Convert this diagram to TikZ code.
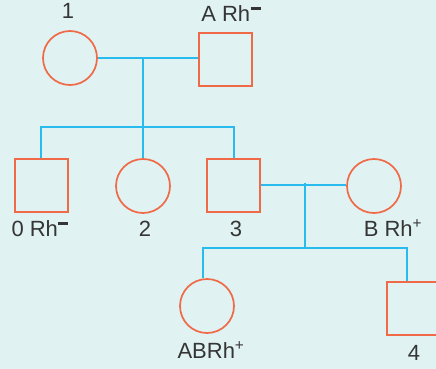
\documentclass[tikz,border=0pt]{standalone}
\usepackage{fontspec}
\setmainfont{Liberation Sans}
\usepackage{tikz}
\usetikzlibrary{positioning,calc}
\usepackage{xcolor}
\definecolor{bgcol}{HTML}{E0F2F2}
\definecolor{shapecol}{HTML}{F06A48}
\definecolor{linecol}{HTML}{2ABBEE}
\definecolor{textcol}{HTML}{353535}
\newcommand{\rhneg}{\kern0.5pt\raisebox{12pt}{\rule{10pt}{2.6pt}}}

\begin{document}
\begin{tikzpicture}[
    x=1pt, y=-1pt,
    female/.style={circle, draw=shapecol, line width=1.7pt, minimum size=54pt, inner sep=0pt},
    male/.style={rectangle, draw=shapecol, line width=2pt, minimum size=53pt, inner sep=0pt},
    line/.style={draw=linecol, line width=2pt},
    tag/.style={text=textcol, font=\fontsize{22}{22}\selectfont, inner sep=0pt, anchor=base},
]
    \fill[bgcol] (0,0) rectangle (436,369);
    \useasboundingbox (0,0) rectangle (436,369);
    \clip (0,0) rectangle (436,369);

    % first generation
    \node[female] (p1) at (70,58) {};
    \node[male] (pA) at (225,59.5) {};
    \node[tag] (t1) at (68,19) {1};
    \node[tag] (tA) at (231,22) {A Rh\rhneg};

    % second generation
    \node[male] (s0) at (41,185.5) {};
    \node[female] (d2) at (143,186) {};
    \node[male] (s3) at (233.5,185) {};
    \node[female] (wB) at (374,186) {};
    \node[tag] (t0) at (40,236.5) {0 Rh\rhneg};
    \node[tag] (t2) at (145,236.5) {2};
    \node[tag] (t3) at (236,236.5) {3};
    \node[tag] (tB) at (393,236.5) {B Rh\textsuperscript{+}};

    % third generation
    \node[female] (dAB) at (207,306) {};
    \node[male] (s4) at (413,308.5) {};
    \node[tag] (tAB) at (211,358) {ABRh\textsuperscript{+}};
    \node[tag] (t4) at (414,360) {4};

    % marriages and sibling bars
    \coordinate (m1) at (143,58);
    \coordinate (bar1) at (143,127);
    \coordinate (m2) at (305,183);
    \coordinate (bar2) at (305,248);
    \coordinate (j1) at (203,248);
    \coordinate (j2) at (407,248);

    \draw[line] (p1.east) -- (p1.east -| pA.west);
    \draw[line] (m1) -- (bar1) -- (d2.north);
    \draw[line] (s0.north) -- (s0.north |- bar1) -- (s3.north |- bar1) -- (s3.north);

    \draw[line] (s3.east) -- (s3.east -| wB.west);
    \draw[line] (m2) -- (bar2);
    \draw[line] (j1 |- dAB.north) -- (j1) -- (j2) -- (j2 |- s4.north);
\end{tikzpicture}
\end{document}
